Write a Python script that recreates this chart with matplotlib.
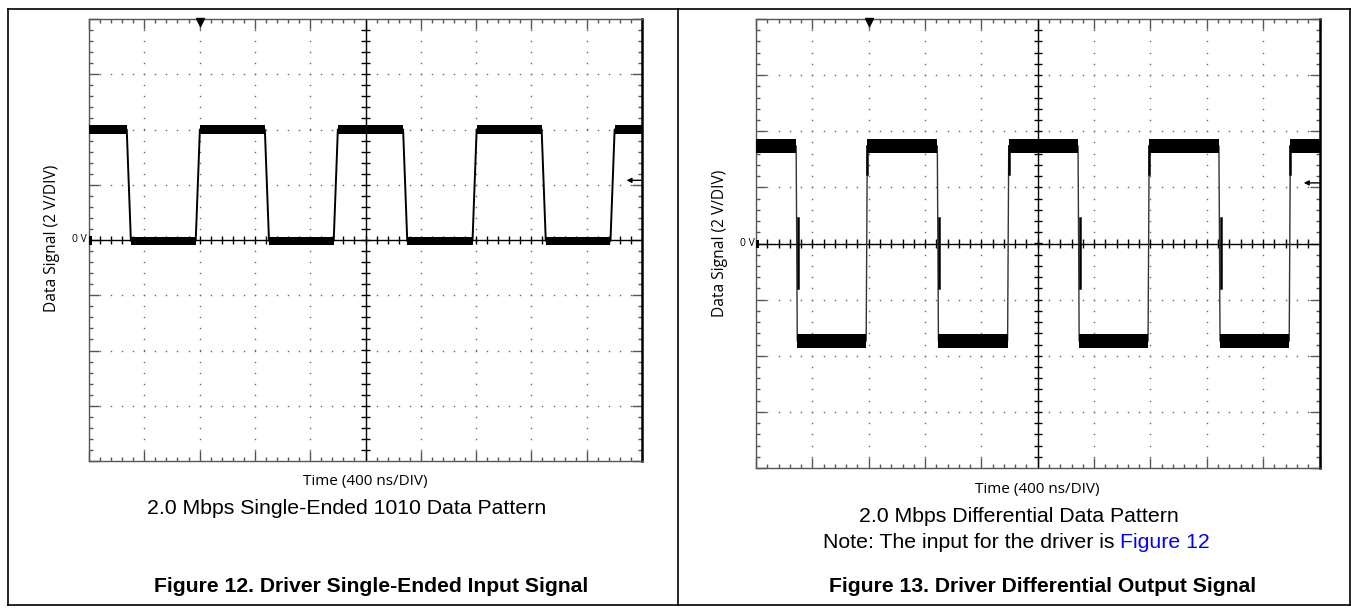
import numpy as np
import matplotlib
matplotlib.use('Agg')
from matplotlib import pyplot as plt
from matplotlib.lines import Line2D
from matplotlib.ticker import MultipleLocator

W, H = 1351, 612

# scope screen: 10 x 8 divisions, 400 ns/DIV, 2 V/DIV
ns_per_div = 400
v_per_div = 2

# Figure 12, single-ended input (edge mid points in ns, levels in V)
se_fall = [288, 1287, 2287, 3289]
se_rise = [787, 1785, 2789, 3787]
se_high = 4.0
se_low = -0.03
se_band = 0.15     # half thickness of the noisy trace, V
se_edge = 30       # transition time, ns

# Figure 13, differential output
df_fall = [289, 1291, 2290, 3290]
df_rise = [786, 1790, 2787, 3789]
df_high = 3.48
df_low = -3.48
df_band = 0.24
df_edge = 8

trig_t = 800        # trigger marker position, ns
level_mark = 2.16   # level arrow on the right edge, V

label_font = ['Open Sans', 'DejaVu Sans']
cap_font = ['Liberation Sans', 'DejaVu Sans']


def px(x, y):
    return x / W, 1 - y / H


def square(falls, rises, hi, lo, tr):
    edges = sorted([(t, lo) for t in falls] + [(t, hi) for t in rises])
    t, v, flats = [0], [hi], []
    start, lvl = 0, hi
    for te, new in edges:
        t += [te - tr / 2, te + tr / 2]
        v += [lvl, new]
        flats.append((start, te - tr / 2, lvl))
        start, lvl = te + tr / 2, new
    t.append(10 * ns_per_div)
    v.append(lvl)
    flats.append((start, 10 * ns_per_div, lvl))
    return t, v, flats


def graticule(ax):
    xmax = 10 * ns_per_div
    ymax = 4 * v_per_div
    ax.set_xlim(0, xmax)
    ax.set_ylim(-ymax, ymax)
    ax.xaxis.set_major_locator(MultipleLocator(ns_per_div))
    ax.xaxis.set_minor_locator(MultipleLocator(ns_per_div / 5))
    ax.yaxis.set_major_locator(MultipleLocator(v_per_div))
    ax.yaxis.set_minor_locator(MultipleLocator(v_per_div / 5))
    ax.tick_params(which='both', direction='in', top=True, right=True,
                   labelbottom=False, labelleft=False, color='#555555', width=1)
    ax.tick_params(which='major', length=7.5)
    ax.tick_params(which='minor', length=3)
    for s in ax.spines.values():
        s.set_color('#555555')
        s.set_linewidth(1)
    ax.spines['right'].set_color('black')
    ax.spines['right'].set_linewidth(1.8)

    # dotted division lines
    ys = np.arange(-ymax + v_per_div / 5, ymax, v_per_div / 5)
    xs = np.arange(ns_per_div / 5, xmax, ns_per_div / 5)
    for i in range(1, 10):
        if i != 5:
            ax.plot(np.full(len(ys), i * ns_per_div), ys, ls='none', marker='s',
                    ms=1.0, mew=0, color='#666666', zorder=1)
    for j in range(-3, 4):
        if j != 0:
            ax.plot(xs, np.full(len(xs), j * v_per_div), ls='none', marker='s',
                    ms=1.0, mew=0, color='#666666', zorder=1)

    # centre cross with small ticks
    ax.axhline(0, color='black', lw=1, zorder=2)
    ax.axvline(xmax / 2, color='black', lw=1, zorder=2)
    dy = 0.075 * v_per_div
    dx = 0.075 * ns_per_div
    ax.vlines(xs, -dy, dy, color='black', lw=1, zorder=2)
    ax.hlines(ys, xmax / 2 - dx, xmax / 2 + dx, color='black', lw=1, zorder=2)

    # trigger marker, level arrow, ground marker
    ax.plot([trig_t], [ymax - 0.06 * v_per_div], marker='v', ms=6, color='black',
            clip_on=False, zorder=5)
    ax.annotate('', xy=(xmax - 0.28 * ns_per_div, level_mark), xytext=(xmax, level_mark),
                arrowprops=dict(arrowstyle='-|>', color='black', lw=1, mutation_scale=7,
                                shrinkA=0, shrinkB=0), zorder=5)
    ax.plot([8, 8], [-0.05 * v_per_div, 0.05 * v_per_div], color='black', lw=2.2, zorder=5)


fig = plt.figure(figsize=(W / 100, H / 100), dpi=100)

# outer frame and divider
x0, y0 = px(8, 9)
x1, y1 = px(1350, 605)
xm, _ = px(678, 0)
for xx, yy in [([x0, x1], [y0, y0]), ([x0, x1], [y1, y1]), ([x0, x0], [y0, y1]),
               ([x1, x1], [y0, y1]), ([xm, xm], [y0, y1])]:
    fig.add_artist(Line2D(xx, yy, color='black', lw=1.2, transform=fig.transFigure))

ax1 = fig.add_axes([89 / W, 1 - 461 / H, (642 - 89) / W, (461 - 19) / H])
ax2 = fig.add_axes([756 / W, 1 - 468 / H, (1319.5 - 756) / W, (468 - 19) / H])

for ax in (ax1, ax2):
    graticule(ax)

# single-ended trace
t, v, flats = square(se_fall, se_rise, se_high, se_low, se_edge)
ax1.plot(t, v, color='black', lw=1.4, zorder=4)
for a, b, lvl in flats:
    ax1.fill_between([a, b], [lvl - se_band] * 2, [lvl + se_band] * 2,
                     color='black', lw=0, zorder=4)

# differential trace
t, v, flats = square(df_fall, df_rise, df_high, df_low, df_edge)
ax2.plot(t, v, color='#333333', lw=1, zorder=4)
for a, b, lvl in flats:
    ax2.fill_between([a, b], [lvl - df_band] * 2, [lvl + df_band] * 2,
                     color='black', lw=0, zorder=4)
for tf in df_fall:
    ax2.plot([tf + 8, tf + 8], [0.9, -1.6], color='black', lw=1.8, zorder=4)
for tr in df_rise:
    ax2.plot([tr + 4, tr + 4], [df_high - 1.0, df_high], color='black', lw=1.8, zorder=4)

# axis texts
fig.text(*px(51.7, 238), 'Data Signal (2 V/DIV)', rotation=90, ha='center', va='center',
         fontsize=11.2, family=label_font)
fig.text(*px(720, 243), 'Data Signal (2 V/DIV)', rotation=90, ha='center', va='center',
         fontsize=11.2, family=label_font)
fig.text(*px(87, 240), '0 V', ha='right', va='center', fontsize=7.5, family=label_font)
fig.text(*px(755, 244), '0 V', ha='right', va='center', fontsize=7.5, family=label_font)
fig.text(*px(365, 481.7), 'Time (400 ns/DIV)', ha='center', va='center',
         fontsize=11, family=label_font)
fig.text(*px(1037, 490), 'Time (400 ns/DIV)', ha='center', va='center',
         fontsize=11, family=label_font)

# captions
fig.text(*px(347, 508), '2.0 Mbps Single-Ended 1010 Data Pattern', ha='center', va='center',
         fontsize=15.3, family=cap_font)
fig.text(*px(371, 586), 'Figure 12. Driver Single-Ended Input Signal', ha='center',
         va='center', fontsize=15.2, fontweight='bold', family=cap_font)
fig.text(*px(1019, 516), '2.0 Mbps Differential Data Pattern', ha='center', va='center',
         fontsize=15.3, family=cap_font)
note = fig.text(*px(823, 542), 'Note: The input for the driver is ', ha='left', va='center',
                fontsize=15.3, family=cap_font)
fig.canvas.draw()
bb = note.get_window_extent()
fig.text(bb.x1 / W, 1 - 542 / H, 'Figure 12', ha='left', va='center', fontsize=15.3,
         color='#0000ff', family=cap_font)
fig.text(*px(1043, 587), 'Figure 13. Driver Differential Output Signal', ha='center',
         va='center', fontsize=15.2, fontweight='bold', family=cap_font)

fig.savefig('out.png', dpi=100)
